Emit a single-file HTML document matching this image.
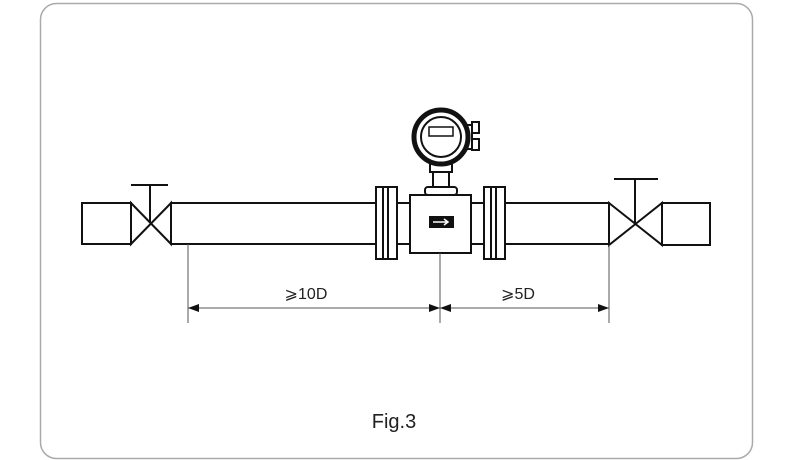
<!DOCTYPE html>
<html><head><meta charset="utf-8"><style>
html,body{margin:0;padding:0;background:#fff;width:800px;height:460px;overflow:hidden}
</style></head><body>
<svg width="800" height="460" viewBox="0 0 800 460" xmlns="http://www.w3.org/2000/svg">
<rect x="40.5" y="3.5" width="712" height="455" rx="16" fill="#fff" stroke="#aaa" stroke-width="1.5"/>
<g fill="#fff" stroke="#111" stroke-width="2">
<rect x="82" y="203" width="49" height="41"/>
<rect x="171" y="203" width="205" height="41"/>
<path d="M131 203 L171 244 L171 203 L131 244 Z"/>
<line x1="150" y1="223" x2="150" y2="185"/><line x1="131" y1="185" x2="168" y2="185"/>
<rect x="505" y="203" width="104" height="41"/>
<path d="M609 203 L662 245 L662 203 L609 245 Z"/>
<line x1="635" y1="224" x2="635" y2="179"/><line x1="614" y1="179" x2="658" y2="179"/>
<rect x="662" y="203" width="48" height="42"/>
<rect x="397" y="203" width="13" height="41"/>
<rect x="470" y="203" width="14" height="41"/>
<rect x="376" y="187" width="21" height="72"/>
<line x1="383" y1="187" x2="383" y2="259"/><line x1="388" y1="187" x2="388" y2="259"/>
<rect x="484" y="187" width="21" height="72"/>
<line x1="491" y1="187" x2="491" y2="259"/><line x1="496" y1="187" x2="496" y2="259"/>
<rect x="410" y="195" width="61" height="58"/>
<rect x="425" y="187" width="32" height="8" rx="3"/>
<rect x="433" y="172" width="16" height="15"/>
<rect x="430" y="163" width="22" height="9"/>
<rect x="472" y="122" width="7" height="11"/><rect x="472" y="139" width="7" height="11"/>
<rect x="462" y="125" width="10" height="24"/>
<circle cx="441" cy="137" r="27" stroke-width="5"/>
<circle cx="441" cy="137" r="20"/>
<rect x="429" y="127" width="24" height="9" stroke-width="1.5"/>
</g>
<rect x="429" y="216" width="25" height="12" fill="#111"/>
<path d="M433 222 H448 M444 219 L448 222 L444 225" stroke="#fff" stroke-width="1.5" fill="none"/>
<g stroke="#555" stroke-width="1">
<line x1="188" y1="244" x2="188" y2="323"/>
<line x1="440" y1="253" x2="440" y2="323"/>
<line x1="609" y1="245" x2="609" y2="323"/>
<line x1="188" y1="308" x2="609" y2="308"/>
</g>
<g fill="#111">
<path d="M188 308 L199 304 L199 312 Z"/><path d="M440 308 L429 304 L429 312 Z"/>
<path d="M440 308 L451 304 L451 312 Z"/><path d="M609 308 L598 304 L598 312 Z"/>
</g>
<g font-family="Liberation Sans, DejaVu Sans, sans-serif" fill="#222">
<text x="306" y="299" font-size="16" text-anchor="middle">⩾10D</text>
<text x="518" y="299" font-size="16" text-anchor="middle">⩾5D</text>
<text x="394" y="428" font-size="20" text-anchor="middle">Fig.3</text>
</g>
</svg>
</body></html>
